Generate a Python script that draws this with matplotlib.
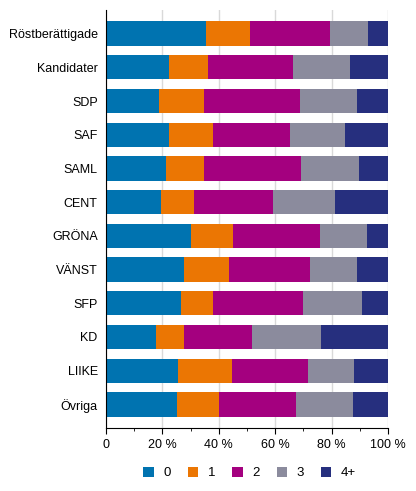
import matplotlib
matplotlib.use("Agg")
import matplotlib.pyplot as plt
import numpy as np
from matplotlib.ticker import MultipleLocator, FuncFormatter

plt.rcParams['font.family'] = ['Liberation Sans', 'DejaVu Sans']

categories = ["Röstberättigade", "Kandidater", "SDP", "SAF", "SAML", "CENT",
              "GRÖNA", "VÄNST", "SFP", "KD", "LIIKE", "Övriga"]
series_names = ["0", "1", "2", "3", "4+"]

share_0 = [35.5, 22.2, 18.9, 22.2, 21.2, 19.4, 30.2, 27.6, 26.6, 17.9, 25.7, 25.1]
share_1 = [15.5, 14.1, 16.0, 15.7, 13.5, 11.8, 14.8, 16.1, 11.5, 9.8, 19.0, 14.9]
share_2 = [28.3, 30.1, 33.9, 27.5, 34.5, 28.1, 31.0, 28.8, 31.6, 24.1, 26.9, 27.5]
share_3 = [13.7, 20.1, 20.1, 19.3, 20.6, 21.9, 16.4, 16.4, 21.2, 24.3, 16.3, 20.2]
share_4 = [7.0, 13.5, 11.1, 15.3, 10.2, 18.8, 7.6, 11.1, 9.1, 23.9, 12.1, 12.3]

colors = ["#0073b0", "#eb7603", "#a4007f", "#8b8b9d", "#262f7e"]

fig = plt.figure(figsize=(4.16, 4.91), dpi=100)
ax = fig.add_axes([0.2548, 0.1283, 0.6779, 0.8513])

y = np.arange(len(categories))
left = np.zeros(len(categories))
for name, vals, c in zip(series_names, [share_0, share_1, share_2, share_3, share_4], colors):
    vals = np.array(vals)
    ax.barh(y, vals, left=left, height=0.72, color=c, label=name, zorder=3)
    left += vals

ax.set_ylim(len(categories) - 0.3, -0.7)
ax.set_xlim(0, 100)
ax.set_yticks(y)
ax.set_yticklabels(categories, fontsize=9)
ax.tick_params(axis='y', length=0, pad=6)

ax.xaxis.set_major_locator(MultipleLocator(20))
ax.xaxis.set_minor_locator(MultipleLocator(10))
ax.xaxis.set_major_formatter(FuncFormatter(lambda v, p: "0" if v == 0 else "%d %%" % v))
ax.tick_params(axis='x', which='major', length=4, labelsize=9, pad=4)
ax.tick_params(axis='x', which='minor', length=2)
ax.grid(axis='x', color='#d9d9d9', linewidth=1, zorder=0)

for s in ['top', 'right']:
    ax.spines[s].set_visible(False)
ax.spines['left'].set_zorder(4)

fig.legend(loc='center', bbox_to_anchor=(0.6, 0.037), ncol=5, frameon=False,
           handlelength=0.8, handleheight=0.8, handletextpad=0.7,
           columnspacing=1.3, fontsize=9.5)

fig.savefig("out.png", dpi=100)
